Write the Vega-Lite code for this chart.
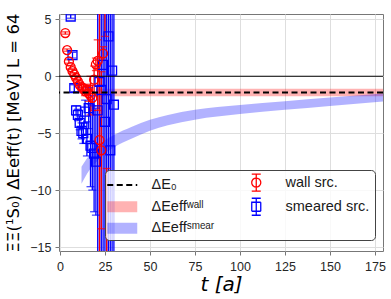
{
  "$schema": "https://vega.github.io/schema/vega-lite/v6.json",
  "width": 324,
  "height": 237,
  "autosize": {"type": "none"},
  "padding": {"left": 59, "top": 14, "right": 8, "bottom": 48},
  "background": "white",
  "config": {
    "view": {"stroke": "#777777", "strokeWidth": 1},
    "axis": {
      "domain": false,
      "grid": true,
      "gridColor": "#dedede",
      "gridWidth": 1,
      "tickColor": "#777777",
      "tickSize": 4,
      "labelFont": "Liberation Sans",
      "labelFontSize": 12.5,
      "labelColor": "#262626",
      "titleColor": "#000000",
      "titleFontWeight": "normal"
    }
  },
  "datasets": {
    "bands": [
      {"key": "wallband", "t": 20, "lo": -1.76, "hi": -1.1},
      {"key": "wallband", "t": 180, "lo": -1.76, "hi": -1.1},
      {"key": "smearband", "t": 12, "lo": -9.45, "hi": -7.95},
      {"key": "smearband", "t": 15, "lo": -8.58, "hi": -7.22},
      {"key": "smearband", "t": 20, "lo": -7.57, "hi": -6.33},
      {"key": "smearband", "t": 25, "lo": -6.78, "hi": -5.62},
      {"key": "smearband", "t": 30, "lo": -6.25, "hi": -5.15},
      {"key": "smearband", "t": 40, "lo": -5.47, "hi": -4.43},
      {"key": "smearband", "t": 50, "lo": -4.78, "hi": -3.82},
      {"key": "smearband", "t": 60, "lo": -4.3, "hi": -3.4},
      {"key": "smearband", "t": 75, "lo": -3.81, "hi": -2.95},
      {"key": "smearband", "t": 100, "lo": -3.32, "hi": -2.52},
      {"key": "smearband", "t": 125, "lo": -2.95, "hi": -2.19},
      {"key": "smearband", "t": 150, "lo": -2.61, "hi": -1.87},
      {"key": "smearband", "t": 180, "lo": -2.22, "hi": -1.5}
    ],
    "pts": [
      {"key": "smear", "t": 6, "y": 5.25, "lo": 5.1, "hi": 5.4},
      {"key": "smear", "t": 7, "y": 1.85, "lo": 1.6, "hi": 2.1},
      {"key": "smear", "t": 8, "y": -1.05, "lo": -1.35, "hi": -0.75},
      {"key": "smear", "t": 9, "y": -3.0, "lo": -3.4, "hi": -2.6},
      {"key": "smear", "t": 10, "y": -3.4, "lo": -3.9, "hi": -2.9},
      {"key": "smear", "t": 11, "y": -4.1, "lo": -4.7, "hi": -3.5},
      {"key": "smear", "t": 12, "y": -4.8, "lo": -5.5, "hi": -4.1},
      {"key": "smear", "t": 13, "y": -5.0, "lo": -5.9, "hi": -4.1},
      {"key": "smear", "t": 14, "y": -3.1, "lo": -4.1, "hi": -2.1},
      {"key": "smear", "t": 15, "y": -5.5, "lo": -7.0, "hi": -4.0},
      {"key": "smear", "t": 16, "y": -2.8, "lo": -4.6, "hi": -1.0},
      {"key": "smear", "t": 17, "y": -6.1, "lo": -9.7, "hi": -2.5},
      {"key": "smear", "t": 18, "y": -6.3, "lo": -10.0, "hi": -2.6},
      {"key": "smear", "t": 19, "y": -6.8, "lo": -11.9, "hi": -1.7},
      {"key": "smear", "t": 20, "y": -7.5, "lo": -12.2, "hi": -2.8},
      {"key": "smear", "t": 21, "y": -3.0, "lo": -43.0, "hi": 37.0},
      {"key": "smear", "t": 22, "y": -0.5, "lo": -40.5, "hi": 39.5},
      {"key": "smear", "t": 23, "y": -1.2, "lo": -41.2, "hi": 38.8},
      {"key": "smear", "t": 24, "y": 1.0, "lo": -39.0, "hi": 41.0},
      {"key": "smear", "t": 25, "y": -4.0, "lo": -44.0, "hi": 36.0},
      {"key": "smear", "t": 26, "y": -2.0, "lo": -42.0, "hi": 38.0},
      {"key": "smear", "t": 27, "y": 3.5, "lo": -36.5, "hi": 43.5},
      {"key": "smear", "t": 28, "y": -6.5, "lo": -46.5, "hi": 33.5},
      {"key": "smear", "t": 29, "y": 0.5, "lo": -39.5, "hi": 40.5},
      {"key": "smear", "t": 30, "y": -2.5, "lo": -42.5, "hi": 37.5},
      {"key": "wall", "t": 3, "y": 3.8, "lo": 3.7, "hi": 3.9},
      {"key": "wall", "t": 4, "y": 2.3, "lo": 2.2, "hi": 2.4},
      {"key": "wall", "t": 5, "y": 1.3, "lo": 1.15, "hi": 1.45},
      {"key": "wall", "t": 6, "y": 0.8, "lo": 0.65, "hi": 0.95},
      {"key": "wall", "t": 7, "y": 0.45, "lo": 0.3, "hi": 0.6},
      {"key": "wall", "t": 8, "y": 0.15, "lo": 0.0, "hi": 0.3},
      {"key": "wall", "t": 9, "y": -0.15, "lo": -0.35, "hi": 0.05},
      {"key": "wall", "t": 10, "y": -0.45, "lo": -0.65, "hi": -0.25},
      {"key": "wall", "t": 11, "y": -0.75, "lo": -1.0, "hi": -0.5},
      {"key": "wall", "t": 12, "y": -0.95, "lo": -1.25, "hi": -0.65},
      {"key": "wall", "t": 13, "y": -1.1, "lo": -1.45, "hi": -0.75},
      {"key": "wall", "t": 14, "y": -1.3, "lo": -1.7, "hi": -0.9},
      {"key": "wall", "t": 15, "y": -1.2, "lo": -1.7, "hi": -0.7},
      {"key": "wall", "t": 16, "y": -1.5, "lo": -2.2, "hi": -0.8},
      {"key": "wall", "t": 17, "y": -1.7, "lo": -3.4, "hi": 0.0},
      {"key": "wall", "t": 18, "y": -1.9, "lo": -3.0, "hi": -0.8},
      {"key": "wall", "t": 19, "y": -0.3, "lo": -1.5, "hi": 0.9},
      {"key": "wall", "t": 20, "y": 1.05, "lo": 0.5, "hi": 1.6},
      {"key": "wall", "t": 21, "y": 1.35, "lo": -3.0, "hi": 3.2},
      {"key": "wall", "t": 22, "y": -5.6, "lo": -40.0, "hi": 40.0},
      {"key": "wall", "t": 23, "y": -6.5, "lo": -13.4, "hi": 0.4},
      {"key": "wall", "t": 24, "y": 2.0, "lo": 1.4, "hi": 2.6},
      {"key": "wall", "t": 25, "y": 9.0, "lo": 3.5, "hi": 15.0},
      {"key": "wall", "t": 26, "y": -20.0, "lo": -35.0, "hi": -8.1}
    ],
    "zero": [{"y": 0}],
    "e0": [{"key": "E0", "y": -1.43}]
  },
  "layer": [
    {
      "data": {"name": "bands"},
      "mark": {"type": "area", "opacity": 0.3, "interpolate": "monotone", "clip": true},
      "encoding": {
        "x": {
          "field": "t",
          "type": "quantitative",
          "scale": {"domain": [-0.5, 179.5], "nice": false, "zero": false},
          "axis": {
            "values": [0, 25, 50, 75, 100, 125, 150, 175],
            "title": "t [a]",
            "titleFont": "DejaVu Sans",
            "titleFontSize": 20,
            "titleFontStyle": "italic",
            "labelPadding": 5,
            "titlePadding": 2,
            "labelFlush": false
          }
        },
        "y": {
          "field": "lo",
          "type": "quantitative",
          "scale": {"domain": [-15.35, 5.47], "nice": false, "zero": false},
          "axis": {
            "values": [-15, -10, -5, 0, 5],
            "title": "ΞΞ(¹S₀) ΔEeff(t) [MeV] L = 64",
            "titleFont": "DejaVu Sans",
            "titleFontSize": 16.5,
            "titlePadding": 8,
            "labelPadding": 4
          }
        },
        "y2": {"field": "hi"},
        "color": {
          "field": "key",
          "type": "nominal",
          "scale": {"domain": ["E0", "wallband", "smearband", "wall", "smear"], "range": ["#000000", "#ff0000", "#0000ff", "#ff0000", "#0000ff"]},
          "legend": {
            "orient": "none",
            "legendX": 46,
            "legendY": 156,
            "columns": 2,
            "title": null,
            "symbolSize": 400,
            "symbolOffset": 5,
            "labelOffset": 22,
            "columnPadding": 29,
            "rowPadding": 1.5,
            "padding": 5,
            "fillColor": "rgba(255,255,255,0.8)",
            "strokeColor": "#444444",
            "cornerRadius": 4,
            "labelFont": "Liberation Sans",
            "labelFontSize": 14.5,
            "labelColor": "#1a1a1a",
            "labelLimit": 0,
            "labelExpr": "datum.value==='E0'?'ΔE₀':datum.value==='wall'?'wall src.':datum.value==='wallband'?'ΔEeffʷᵃˡˡ':datum.value==='smear'?'smeared src.':'ΔEeffˢᵐᵉᵃʳ'",
            "encoding": {
              "symbols": {
                "shape": {"value": {"expr": "datum.value==='E0'?'M-1.5,0H1.5':datum.value==='wall'?'M0,-0.85V0.85M-0.45,-0.85H0.45M-0.45,0.85H0.45M0.45,0C0.45,0.2485 0.2485,0.45 0,0.45C-0.2485,0.45 -0.45,0.2485 -0.45,0C-0.45,-0.2485 -0.2485,-0.45 0,-0.45C0.2485,-0.45 0.45,-0.2485 0.45,0Z':datum.value==='smear'?'M0,-0.85V0.85M-0.45,-0.85H0.45M-0.45,0.85H0.45M-0.45,-0.45H0.45V0.45H-0.45Z':'M-1.5,-0.55H1.5V0.55H-1.5Z'"}},
                "fillOpacity": {"value": {"expr": "(datum.value==='wallband'||datum.value==='smearband')?0.3:0"}},
                "strokeOpacity": {"value": {"expr": "(datum.value==='wallband'||datum.value==='smearband')?0:1"}},
                "stroke": {"value": {"expr": "datum.value==='E0'?'#000000':datum.value==='wall'?'#ff0000':datum.value==='smear'?'#0000ff':'transparent'"}},
                "strokeWidth": {"value": {"expr": "datum.value==='E0'?2:((datum.value==='wallband'||datum.value==='smearband')?0:1.3)"}},
                "strokeDash": {"value": {"expr": "datum.value==='E0'?[6,3.5]:[1,0]"}},
                "opacity": {"value": 1}
              }
            }
          }
        }
      }
    },
    {
      "data": {"name": "pts"},
      "mark": {"type": "rule", "strokeWidth": 1.3, "clip": true},
      "encoding": {
        "x": {"field": "t", "type": "quantitative"},
        "y": {"field": "lo", "type": "quantitative"},
        "y2": {"field": "hi"},
        "color": {"field": "key", "type": "nominal", "scale": {"domain": ["E0", "wallband", "smearband", "wall", "smear"], "range": ["#000000", "#ff0000", "#0000ff", "#ff0000", "#0000ff"]}}
      }
    },
    {
      "data": {"name": "pts"},
      "mark": {"type": "tick", "orient": "horizontal", "size": 8, "thickness": 1.3, "clip": true},
      "encoding": {
        "x": {"field": "t", "type": "quantitative"},
        "y": {"field": "lo", "type": "quantitative"},
        "color": {"field": "key", "type": "nominal", "scale": {"domain": ["E0", "wallband", "smearband", "wall", "smear"], "range": ["#000000", "#ff0000", "#0000ff", "#ff0000", "#0000ff"]}}
      }
    },
    {
      "data": {"name": "pts"},
      "mark": {"type": "tick", "orient": "horizontal", "size": 8, "thickness": 1.3, "clip": true},
      "encoding": {
        "x": {"field": "t", "type": "quantitative"},
        "y": {"field": "hi", "type": "quantitative"},
        "color": {"field": "key", "type": "nominal", "scale": {"domain": ["E0", "wallband", "smearband", "wall", "smear"], "range": ["#000000", "#ff0000", "#0000ff", "#ff0000", "#0000ff"]}}
      }
    },
    {
      "data": {"name": "pts"},
      "mark": {"type": "point", "filled": false, "size": 80, "strokeWidth": 1.3, "opacity": 1, "clip": true},
      "encoding": {
        "x": {"field": "t", "type": "quantitative"},
        "y": {"field": "y", "type": "quantitative"},
        "color": {"field": "key", "type": "nominal", "scale": {"domain": ["E0", "wallband", "smearband", "wall", "smear"], "range": ["#000000", "#ff0000", "#0000ff", "#ff0000", "#0000ff"]}},
        "shape": {"field": "key", "type": "nominal", "scale": {"domain": ["wall", "smear"], "range": ["circle", "square"]}, "legend": null}
      }
    },
    {
      "data": {"name": "zero"},
      "mark": {"type": "rule", "color": "#000000", "strokeWidth": 1.2},
      "encoding": {
        "y": {"field": "y", "type": "quantitative"}
      }
    },
    {
      "data": {"name": "e0"},
      "mark": {"type": "rule", "strokeWidth": 2, "strokeDash": [6, 3.5]},
      "encoding": {
        "y": {"field": "y", "type": "quantitative"},
        "color": {"field": "key", "type": "nominal", "scale": {"domain": ["E0", "wallband", "smearband", "wall", "smear"], "range": ["#000000", "#ff0000", "#0000ff", "#ff0000", "#0000ff"]}}
      }
    }
  ]
}
